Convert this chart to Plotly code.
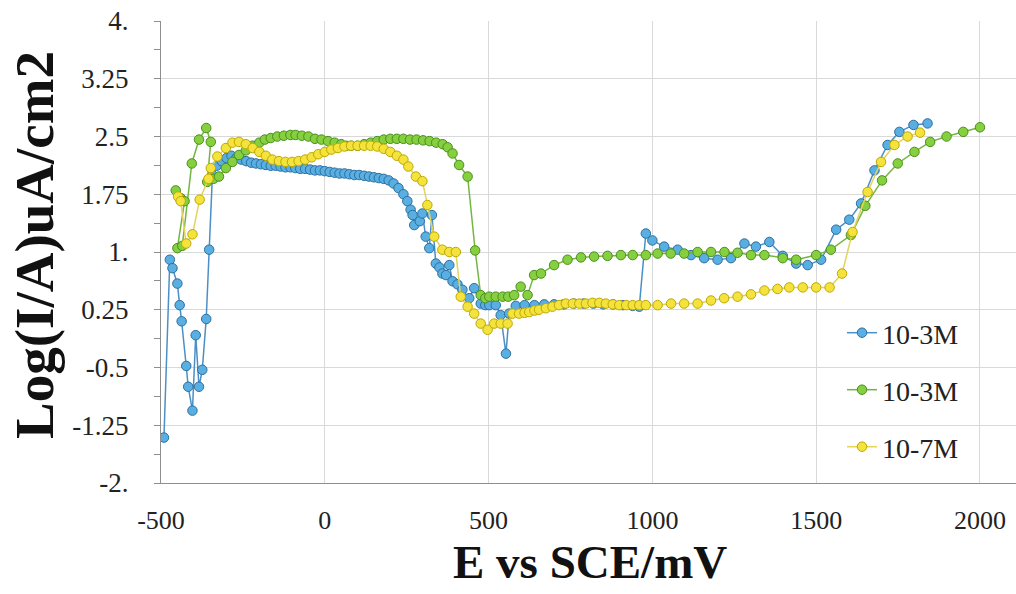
import plotly.graph_objects as go

# ---------------- data (E in mV, Log(I/A)) ----------------
blue_E = [-491, -473, -465, -450, -443, -437, -423, -417, -404, -394, -384, -374, -362, -353,
          -343, -330, -315, -300, -285, -270, -255, -240, -225, -210, -195, -180, -165, -150,
          -135, -120, -105, -90, -75, -60, -45, -30, -15, 0, 15, 30, 45, 60, 75, 90, 105, 120,
          135, 150, 165, 180, 195, 210, 225, 240, 252, 262, 268, 273, 290, 298, 308, 319, 327,
          339, 350, 359, 370, 380, 390, 405, 420, 441, 456, 476, 490, 502, 522, 537, 553, 563,
          583, 610, 640, 670, 700, 730, 760, 790, 820, 850, 880, 910, 940, 960,
          980, 1000, 1036, 1077, 1118, 1158, 1199, 1240, 1281, 1316, 1357, 1398, 1439, 1474,
          1515, 1561, 1601, 1637, 1678, 1718, 1754, 1797, 1840]
blue_L = [-1.41, 0.90, 0.79, 0.59, 0.31, 0.10, -0.48, -0.75, -1.06, -0.08, -0.75, -0.53, 0.13, 1.03,
          2.00, 2.12, 2.18, 2.22, 2.25, 2.22, 2.20, 2.18, 2.16, 2.15, 2.14, 2.13, 2.12, 2.12,
          2.11, 2.10, 2.10, 2.09, 2.08, 2.08, 2.07, 2.06, 2.06, 2.05, 2.04, 2.03, 2.02, 2.02,
          2.01, 2.00, 2.00, 1.99, 1.98, 1.97, 1.96, 1.95, 1.93, 1.89, 1.83, 1.75, 1.66, 1.55,
          1.48, 1.35, 1.40, 1.50, 1.20, 1.05, 1.48, 0.85, 0.80, 0.72, 0.70, 0.83, 0.62, 0.58,
          0.51, 0.40, 0.53, 0.33, 0.31, 0.31, 0.31, 0.18, -0.32, 0.20,
          0.30, 0.31, 0.31, 0.32, 0.32, 0.32, 0.33, 0.33, 0.33, 0.32, 0.32, 0.31, 0.30, 0.29,
          1.24, 1.15, 1.07, 1.03, 0.96, 0.92, 0.90, 0.92, 1.11, 1.07, 1.13, 0.95, 0.85, 0.83,
          0.90, 1.29, 1.42, 1.63, 2.06, 2.39, 2.56, 2.65, 2.67]

green_E = [-455, -440, -428, -450, -435, -406, -384, -362, -348, -359, -340, -323, -302, -282,
           -262, -241, -221, -200, -183, -165, -145, -125, -105, -89, -70, -50, -30, -10, 10,
           30, 50, 65, 80, 100, 120, 140, 160, 180, 200, 220, 240, 260, 280, 300, 320, 340, 360,
           375, 390, 410, 436, 459, 476, 490, 502, 522, 543, 560, 578, 598, 619, 639, 660, 700,
           741, 782, 822, 863, 904, 940, 980, 1016, 1056, 1097, 1138, 1179, 1220, 1260, 1301,
           1342, 1398, 1439, 1500, 1545, 1606, 1650, 1701, 1749, 1800, 1848, 1898, 1949, 2000]
green_L = [1.80, 1.70, 1.66, 1.05, 1.08, 2.15, 2.46, 2.61, 2.43, 1.91, 1.95, 1.98, 2.09, 2.17,
           2.26, 2.32, 2.38, 2.42, 2.46, 2.48, 2.50, 2.51, 2.52, 2.52, 2.51, 2.50, 2.47, 2.46, 2.44,
           2.42, 2.40, 2.38, 2.38, 2.38, 2.40, 2.42, 2.44, 2.46, 2.47, 2.47, 2.47, 2.46, 2.46,
           2.45, 2.44, 2.42, 2.40, 2.36, 2.28, 2.13, 1.98, 1.02, 0.44, 0.40, 0.42, 0.42, 0.42,
           0.42, 0.44, 0.55, 0.44, 0.70, 0.72, 0.83, 0.90, 0.93, 0.94, 0.95, 0.96, 0.96, 0.96,
           0.98, 0.98, 0.98, 1.00, 1.00, 1.00, 0.99, 0.96, 0.96, 0.92, 0.90, 0.96, 1.03, 1.22,
           1.60, 1.93, 2.15, 2.30, 2.43, 2.50, 2.56, 2.62]

yellow_E = [-448, -440, -423, -404, -382, -355, -348, -328, -302, -282, -262, -241, -220, -200,
            -180, -160, -140, -120, -100, -80, -60, -40, -20, 0, 20, 40, 60, 80, 100, 120, 140,
            160, 180, 200, 220, 240, 255, 278, 298, 313, 334, 359, 380, 400, 415, 436, 456, 476,
            497, 517, 537, 558, 573, 593, 610, 624, 640, 654, 675, 695, 715, 736, 757, 777, 797,
            817, 838, 858, 879, 899, 920, 940, 960, 980, 1016, 1057, 1097, 1138, 1179, 1219, 1260,
            1301, 1342, 1382, 1418, 1459, 1500, 1541, 1579, 1611, 1657, 1698, 1739, 1779, 1817]
yellow_L = [1.72, 1.66, 1.11, 1.23, 1.68, 1.95, 2.09, 2.24, 2.35, 2.42, 2.43, 2.40, 2.35, 2.30,
            2.25, 2.20, 2.18, 2.17, 2.17, 2.18, 2.20, 2.23, 2.27, 2.30, 2.33, 2.35, 2.37, 2.38,
            2.38, 2.38, 2.38, 2.37, 2.34, 2.30, 2.25, 2.20, 2.11, 1.98, 1.92, 1.61, 1.20, 1.03,
            1.00, 1.00, 0.42, 0.29, 0.20, 0.07, -0.01, 0.07, 0.07, 0.07, 0.20, 0.20, 0.21, 0.22,
            0.24, 0.25, 0.27, 0.29, 0.31, 0.33, 0.33, 0.33, 0.33, 0.34, 0.34, 0.33, 0.32, 0.31,
            0.31, 0.31, 0.31, 0.31, 0.31, 0.33, 0.33, 0.33, 0.37, 0.40, 0.42, 0.45, 0.50, 0.52,
            0.54, 0.54, 0.54, 0.54, 0.72, 1.26, 1.78, 2.17, 2.39, 2.50, 2.55]

series_names = ["10-3M", "10-3M", "10-7M"]
y_tickvals = [4, 3.25, 2.5, 1.75, 1, 0.25, -0.5, -1.25, -2]
y_ticktext = ["4.", "3.25", "2.5", "1.75", "1.", "0.25", "-0.5", "-1.25", "-2."]
x_tickvals = [-500, 0, 500, 1000, 1500, 2000]
x_ticktext = ["-500", "0", "500", "1000", "1500", "2000"]

# ---------------- styling ----------------
SERIF = "Liberation Serif"
styles = [
    dict(fill="#5AAFE2", edge="#2C6F9F", line="#4C8FC6"),
    dict(fill="#86CF3E", edge="#4A8F1E", line="#73B640"),
    dict(fill="#F4E33C", edge="#BFA800", line="#E3D35A"),
]
data = [(blue_E, blue_L), (green_E, green_L), (yellow_E, yellow_L)]
legend_ids = ["legend", "legend2", "legend3"]

fig = go.Figure()
for (xs, ys), name, st, lg in zip(data, series_names, styles, legend_ids):
    fig.add_trace(go.Scatter(
        x=xs, y=ys, mode="lines+markers", name=name, legend=lg,
        line=dict(color=st["line"], width=1.5),
        marker=dict(size=9.5, color=st["fill"], line=dict(color=st["edge"], width=1)),
    ))

L_PX, T_PX, W, H = 161, 21, 1016, 594
plot_w = W - L_PX
plot_h = 483 - T_PX

def px2paper(px, py):
    return (px - L_PX) / plot_w, (483 - py) / plot_h

legend_common = dict(bgcolor="rgba(0,0,0,0)", borderwidth=0,
                     font=dict(family=SERIF, size=28, color="#222"),
                     xanchor="left", yanchor="middle", itemwidth=30)
lg_layout = {}
for lg, ypx in zip(legend_ids, [333, 390, 447]):
    lx, ly = px2paper(842, ypx)
    lg_layout[lg] = dict(x=lx, y=ly, **legend_common)

tx, ty = px2paper(34, 245)
xx, xy = px2paper(590, 562)

fig.update_layout(
    width=W, height=H,
    margin=dict(l=L_PX, r=0, t=T_PX, b=H - 483),
    paper_bgcolor="white", plot_bgcolor="white",
    showlegend=True,
    **lg_layout,
    xaxis=dict(range=[-500, 2110], tickmode="array", tickvals=x_tickvals, ticktext=x_ticktext,
               showgrid=True, gridcolor="#D9D9D9", gridwidth=1,
               showline=True, linecolor="#8E8E8E", linewidth=1, zeroline=False,
               ticks="", ticklabelstandoff=14,
               tickfont=dict(family=SERIF, size=26, color="#222")),
    yaxis=dict(range=[-2, 4], tickmode="array", tickvals=y_tickvals, ticktext=y_ticktext,
               showgrid=True, gridcolor="#D9D9D9", gridwidth=1,
               showline=True, linecolor="#8E8E8E", linewidth=1, zeroline=False,
               ticks="outside", ticklen=6, tickcolor="#8E8E8E", ticklabelstandoff=20,
               minor=dict(tickmode="linear", tick0=-2, dtick=0.375, ticks="outside",
                          ticklen=6, tickcolor="#8E8E8E", showgrid=False),
               tickfont=dict(family=SERIF, size=27, color="#222")),
    annotations=[
        dict(text="<b>Log(I/A)uA/cm2</b>", xref="paper", yref="paper", x=tx, y=ty,
             xanchor="center", yanchor="middle", textangle=-90, showarrow=False,
             font=dict(family=SERIF, size=55, color="#111")),
        dict(text="<b>E vs SCE/mV</b>", xref="paper", yref="paper", x=xx, y=xy,
             xanchor="center", yanchor="middle", showarrow=False,
             font=dict(family=SERIF, size=47, color="#111")),
    ],
)

fig.write_html("out.html")
